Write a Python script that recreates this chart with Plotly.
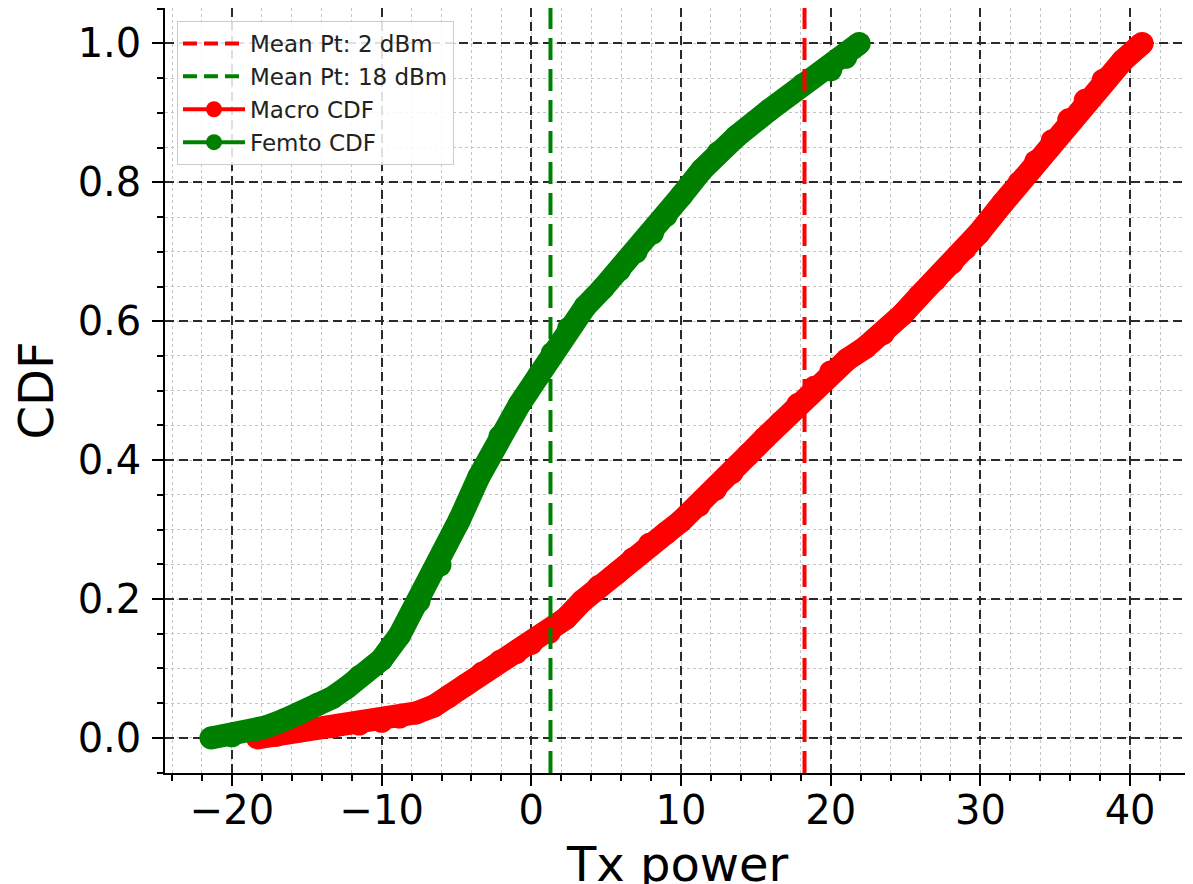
import plotly.graph_objects as go

# Femto CDF (green)
femto_x = [-21.4, -20.0, -18.5, -17.7, -16.5, -15.5, -14.3, -13.3, -12.3, -11.5,
           -10.0, -8.8, -7.5, -6.1, -4.8, -3.5, -2.1, -0.8, 0.5, 1.4,
           2.5, 3.6, 4.8, 5.9, 7.0, 8.1, 9.0, 10.0, 11.4, 12.5,
           13.7, 15.9, 18.1, 20.0, 21.0, 21.9]
femto_cdf = [0.000, 0.003, 0.011, 0.016, 0.026, 0.035, 0.048, 0.058, 0.073, 0.088,
             0.113, 0.148, 0.197, 0.249, 0.314, 0.376, 0.434, 0.480, 0.522, 0.554,
             0.590, 0.621, 0.648, 0.674, 0.700, 0.727, 0.752, 0.780, 0.818, 0.843,
             0.866, 0.904, 0.940, 0.962, 0.980, 1.000]

# Macro CDF (red)
macro_x = [-18.3, -17.0, -15.5, -13.3, -11.5, -10.0, -8.8, -7.7, -6.5, -5.5,
           -4.4, -3.3, -2.1, -1.0, 0.0, 1.2, 2.3, 3.4, 4.5, 5.7,
           6.8, 7.9, 9.0, 10.0, 11.2, 12.3, 13.4, 14.5, 15.6, 16.7,
           17.8, 18.9, 20.0, 21.1, 22.3, 23.5, 24.8, 25.9, 27.0,
           28.1, 29.0, 29.9, 31.5, 32.6, 33.7, 34.8, 35.9, 37.0, 38.2,
           39.5, 40.8]
macro_cdf = [0.000, 0.004, 0.010, 0.016, 0.020, 0.024, 0.030, 0.036, 0.046, 0.060,
             0.076, 0.093, 0.110, 0.123, 0.136, 0.152, 0.172, 0.197, 0.218, 0.237,
             0.258, 0.279, 0.295, 0.312, 0.335, 0.358, 0.382, 0.408, 0.432, 0.455,
             0.480, 0.505, 0.527, 0.545, 0.562, 0.582, 0.610, 0.636, 0.660,
             0.684, 0.705, 0.727, 0.770, 0.800, 0.830, 0.860, 0.890, 0.918, 0.947,
             0.975, 1.000]

# Vertical mean lines (labels as in the original legend)
vline_x = [18.25, 1.28]
vline_labels = ["Mean Pt: 2 dBm", "Mean Pt: 18 dBm"]
vline_colors = ["#ff0000", "#008000"]

curve_labels = ["Macro CDF", "Femto CDF"]
curve_colors = ["#ff0000", "#008000"]

x_ticks = [-20, -10, 0, 10, 20, 30, 40]
y_ticks = [0.0, 0.2, 0.4, 0.6, 0.8, 1.0]
x_title = "Tx power"
y_title = "CDF"

FONT = "DejaVu Sans"

fig = go.Figure()

# vertical dashed lines
for xv, col in zip(vline_x, vline_colors):
    fig.add_shape(type="line", x0=xv, x1=xv, xref="x", y0=0, y1=1, yref="paper",
                  line=dict(color=col, width=4, dash="22px,9px"), layer="above")

# curves
for xs, ys, col in [(macro_x, macro_cdf, curve_colors[0]), (femto_x, femto_cdf, curve_colors[1])]:
    fig.add_trace(go.Scatter(x=xs, y=ys, mode="lines+markers",
                             line=dict(color=col, width=23),
                             marker=dict(color=col, size=23, line=dict(width=0)),
                             showlegend=False, hoverinfo="skip"))

# legend-only entries
for lab, col in zip(vline_labels, vline_colors):
    fig.add_trace(go.Scatter(x=[None], y=[None], mode="lines", name=lab,
                             legendgroup=lab,
                             line=dict(color=col, width=4, dash="14px,7px")))
for lab, col in zip(curve_labels, curve_colors):
    fig.add_trace(go.Scatter(x=[None], y=[None], mode="lines+markers", name=lab,
                             legendgroup=lab,
                             line=dict(color=col, width=4),
                             marker=dict(color=col, size=16)))

axis_common = dict(
    showline=True, linecolor="black", linewidth=1.5, mirror=True,
    ticks="outside", ticklen=11, tickwidth=2, tickcolor="black",
    showgrid=True, gridcolor="#2a2a2a", gridwidth=2, griddash="9px,5px",
    zeroline=False, automargin=False,
    tickfont=dict(family=FONT, size=40, color="black"),
)

fig.update_xaxes(
    range=[-24.47, 44.0], tickvals=x_ticks,
    ticktext=[("\u2212" + str(-v)) if v < 0 else str(v) for v in x_ticks],
    minor=dict(dtick=2, tick0=0, ticks="outside", ticklen=6, tickwidth=1.5, tickcolor="black",
               showgrid=True, gridcolor="#c4c4c4", gridwidth=1.2, griddash="dot"),
    ticklabelstandoff=-10,
    **axis_common,
)
fig.update_yaxes(
    range=[-0.0505, 1.051], tickvals=y_ticks, ticktext=[f"{v:.1f}" for v in y_ticks],
    minor=dict(dtick=0.05, tick0=0, ticks="outside", ticklen=6, tickwidth=1.5, tickcolor="black",
               showgrid=True, gridcolor="#c4c4c4", gridwidth=1.2, griddash="dot"),
    title=dict(text=y_title, font=dict(family=FONT, size=48, color="black"), standoff=22),
    ticklabelstandoff=3,
    **axis_common,
)

# x axis title placed as in the reference (its lower part runs off the page edge there too)
fig.add_annotation(text=x_title, xref="paper", yref="paper", x=0.5, y=-0.08,
                   xanchor="center", yanchor="top", showarrow=False,
                   font=dict(family=FONT, size=48, color="black"))

# the page body adds an 8px offset; size the figure so the plot area lands at 165..1190 x 8..773
fig.update_layout(
    width=1185, height=876,
    margin=dict(l=157, r=3, t=0, b=111),
    paper_bgcolor="white", plot_bgcolor="white",
    showlegend=True,
    legend=dict(x=0.0117, y=0.983, xanchor="left", yanchor="top",
                bgcolor="rgba(255,255,255,0.85)", bordercolor="#cccccc", borderwidth=1,
                font=dict(family=FONT, size=23, color="#222"),
                itemwidth=62, tracegroupgap=0),
)

fig.write_html("out.html")
